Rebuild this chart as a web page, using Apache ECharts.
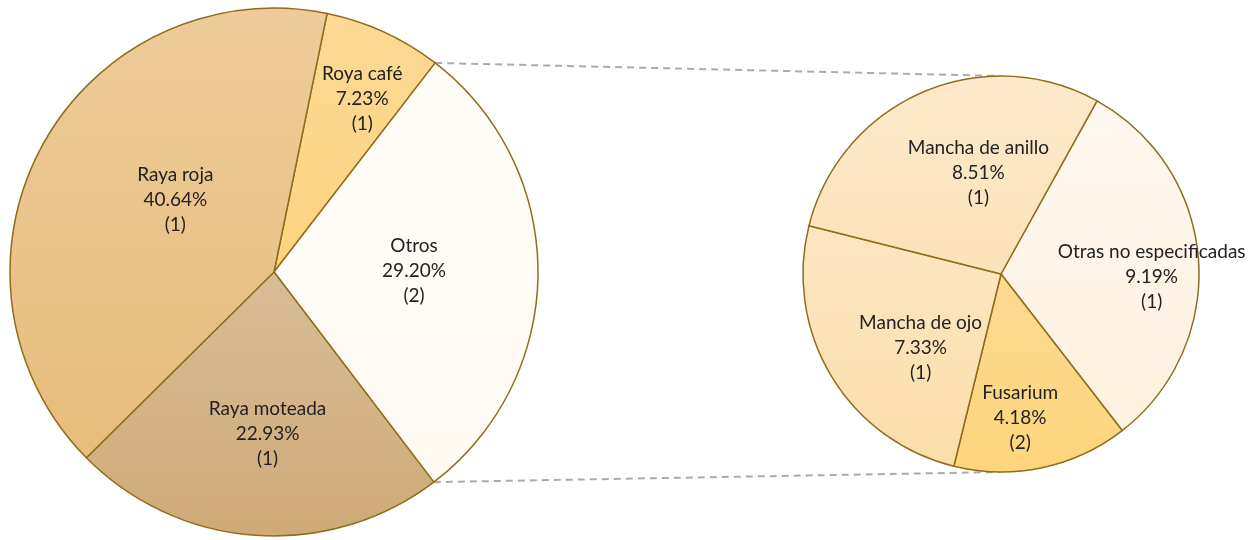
<!DOCTYPE html>
<html>
<head>
<meta charset="utf-8">
<script src="https://cdn.jsdelivr.net/npm/echarts@6/dist/echarts.min.js"></script>
<style>
html,body{margin:0;padding:0;background:#fff;}
#chart{width:1257px;height:540px;}
</style>
</head>
<body>
<div id="chart"></div>
<script>
// Main pie
const mainNames = ['Roya café', 'Otros', 'Raya moteada', 'Raya roja'];
const mainValues = [7.23, 29.20, 22.93, 40.64];
const mainCounts = [1, 2, 1, 1];
// Sub pie (breakdown of "Otros")
const subNames = ['Otras no especificadas', 'Fusarium', 'Mancha de ojo', 'Mancha de anillo'];
const subValues = [9.19, 4.18, 7.33, 8.51];
const subCounts = [1, 2, 1, 1];

// styles (kept apart from data)
const mainColors = [
  ['#FDD994', '#FCD37F'],
  ['#FFFCF8', '#FFFAF2'],
  ['#D8BC96', '#CFAA78'],
  ['#EDCB9A', '#E8BD7C']
];
const subColors = [
  ['#FFF8F0', '#FEF1DF'],
  ['#FDDA92', '#FED57C'],
  ['#FDE6C2', '#FCDEAA'],
  ['#FDE9CB', '#FCE2B8']
];
const mainLabelShift = [[32, -50], [5, -2], [3, 27], [20, -8]];
const subLabelShift = [[49, 11], [-2, 44], [7, 21], [18, -8]];

const C1 = [274, 272], R1 = 264;
const C2 = [1001, 274], R2 = 198;
const START1 = 78.4, START2 = 61;
const BORDER = '#8E6E1C';

function grad(c) {
  return {type: 'linear', x: 0, y: 0, x2: 0, y2: 1,
    colorStops: [{offset: 0, color: c[0]}, {offset: 1, color: c[1]}]};
}

const chart = echarts.init(document.getElementById('chart'));

// connector endpoints derived from the "Otros" slice angles
const total = mainValues.reduce((a, b) => a + b, 0);
const aStart = START1 - mainValues[0] / total * 360;
const aEnd = aStart - mainValues[1] / total * 360;
function pt(c, r, deg) {
  const a = deg * Math.PI / 180;
  return [c[0] + r * Math.cos(a), c[1] - r * Math.sin(a)];
}
const p1 = pt(C1, R1, aStart), p2 = pt(C1, R1, aEnd);
const q1 = [C2[0], C2[1] - R2], q2 = [C2[0], C2[1] + R2];

const labelStyle = {
  show: true, position: 'inside', color: '#222222',
  fontFamily: 'Lato', fontSize: 19, lineHeight: 25
};

chart.setOption({
  animation: false,
  graphic: [
    {type: 'line', z: 0, shape: {x1: p1[0], y1: p1[1], x2: q1[0], y2: q1[1]},
      style: {stroke: '#ABABAB', lineWidth: 2, lineDash: [7, 5]}},
    {type: 'line', z: 0, shape: {x1: p2[0], y1: p2[1], x2: q2[0], y2: q2[1]},
      style: {stroke: '#ABABAB', lineWidth: 2, lineDash: [7, 5]}}
  ],
  series: [
    {
      type: 'pie', center: C1, radius: R1, startAngle: START1, clockwise: true,
      avoidLabelOverlap: false, silent: true,
      itemStyle: {borderColor: BORDER, borderWidth: 1.5},
      label: Object.assign({}, labelStyle, {
        formatter: p => p.name + '\n' + p.value.toFixed(2) + '%\n(' + mainCounts[p.dataIndex] + ')'
      }),
      labelLine: {show: false},
      data: mainNames.map((n, i) => ({name: n, value: mainValues[i],
        itemStyle: {color: grad(mainColors[i])},
        label: {offset: mainLabelShift[i]}}))
    },
    {
      type: 'pie', center: C2, radius: R2, startAngle: START2, clockwise: true,
      avoidLabelOverlap: false, silent: true,
      itemStyle: {borderColor: BORDER, borderWidth: 1.5},
      label: Object.assign({}, labelStyle, {
        formatter: p => p.name + '\n' + p.value.toFixed(2) + '%\n(' + subCounts[p.dataIndex] + ')'
      }),
      labelLine: {show: false},
      data: subNames.map((n, i) => ({name: n, value: subValues[i],
        itemStyle: {color: grad(subColors[i])},
        label: {offset: subLabelShift[i]}}))
    }
  ]
});
</script>
</body>
</html>
